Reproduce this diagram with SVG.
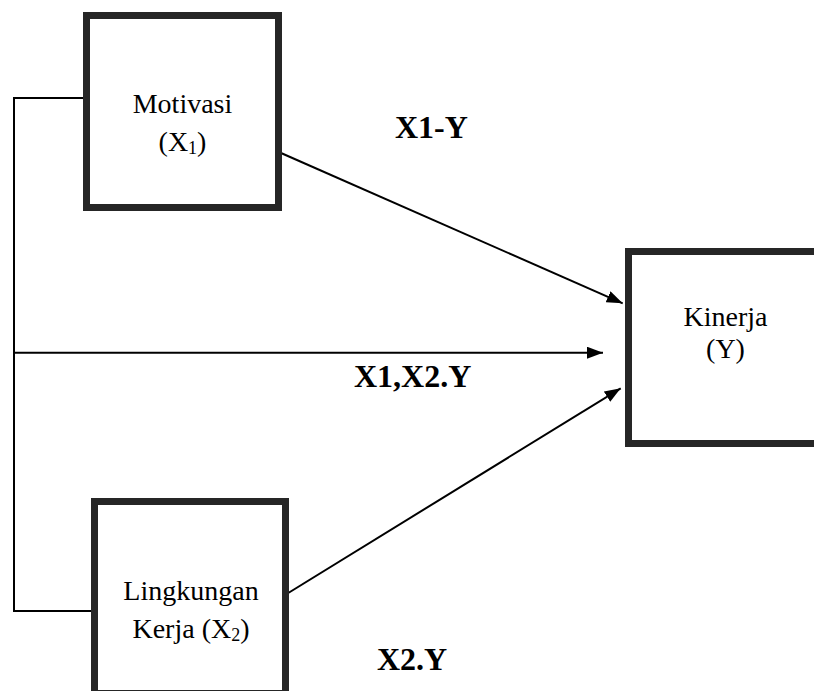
<svg xmlns="http://www.w3.org/2000/svg" width="814" height="691" viewBox="0 0 814 691">
<style>
.box{fill:#fff;stroke:#262626;stroke-width:7}
.ln{fill:none;stroke:#000;stroke-width:2}
text{font-family:"Liberation Serif","Times New Roman",serif;fill:#000}
.nt{font-size:28px;text-anchor:middle}
.lb{font-size:32px;font-weight:bold}
.sub{font-size:18px}
</style>
<defs>
<marker id="ah" viewBox="0 0 16 12" refX="16" refY="6" markerWidth="16" markerHeight="12" markerUnits="userSpaceOnUse" orient="auto">
<path d="M0,0 L16,6 L0,12 Z" fill="#000"/>
</marker>
</defs>
<g id="connectors">
<polyline class="ln" points="83,98 14,98 14,611 91,611"/>
<line class="ln" x1="14" y1="352.7" x2="603" y2="352.7" marker-end="url(#ah)"/>
<line class="ln" x1="281" y1="153" x2="622.7" y2="303.3" marker-end="url(#ah)"/>
<line class="ln" x1="285" y1="595" x2="620.7" y2="388.3" marker-end="url(#ah)"/>
</g>
<g id="motivasi">
<rect class="box" x="86.5" y="15.5" width="192" height="192"/>
<text class="nt" x="182.5" y="113">Motivasi</text>
<text class="nt" x="182.5" y="151">(X<tspan class="sub" dy="3">1</tspan><tspan dy="-3">)</tspan></text>
</g>
<g id="lingkungan">
<rect class="box" x="94.5" y="501.5" width="191" height="192"/>
<text class="nt" x="191" y="600">Lingkungan</text>
<text class="nt" x="191" y="638">Kerja (X<tspan class="sub" dy="3">2</tspan><tspan dy="-3">)</tspan></text>
</g>
<g id="kinerja">
<rect class="box" x="628.5" y="251.5" width="190" height="192"/>
<text class="nt" x="725.5" y="326">Kinerja</text>
<text class="nt" x="725.5" y="358">(Y)</text>
</g>
<g id="labels">
<text class="lb" x="395" y="138">X1-Y</text>
<text class="lb" x="354" y="387">X1,X2.Y</text>
<text class="lb" x="377" y="670">X2.Y</text>
</g>
</svg>
